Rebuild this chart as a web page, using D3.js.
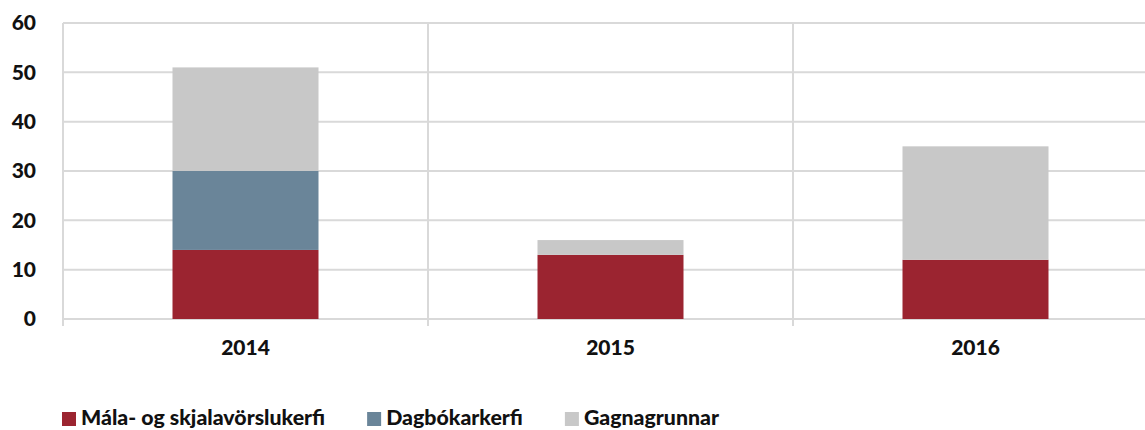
<!DOCTYPE html>
<html>
<head>
<meta charset="utf-8">
<script src="https://cdn.jsdelivr.net/npm/d3@7"></script>
<style>
  body { margin: 0; background: #fff; }
  svg { display: block; font-family: Lato, "Open Sans", sans-serif; font-weight: 900; }
</style>
</head>
<body>
<div id="chart"></div>
<script>
var years = ['2014', '2015', '2016'];
var seriesNames = ['Mála- og skjalavörslukerfi', 'Dagbókarkerfi', 'Gagnagrunnar'];
var seriesColors = ['#9b2430', '#6a8599', '#c8c8c8'];
var malaValues = [14, 13, 12];
var dagbokValues = [16, 0, 0];
var gagnaValues = [21, 3, 23];
var yTicks = [0, 10, 20, 30, 40, 50, 60];

var width = 1145, height = 430;

var rows = years.map(function(y, i) {
    return { year: y, s0: malaValues[i], s1: dagbokValues[i], s2: gagnaValues[i] };
});

var svg = d3.select('#chart')
    .append('svg')
    .attr('width', width)
    .attr('height', height);

var x = d3.scaleBand()
    .domain(years)
    .range([63, 1158])
    .paddingInner(0)
    .paddingOuter(0);

var y = d3.scaleLinear()
    .domain([0, 60])
    .range([319, 23]);

// horizontal grid
svg.append('g')
    .selectAll('line')
    .data(yTicks)
    .enter()
    .append('line')
    .attr('x1', 63)
    .attr('x2', width)
    .attr('y1', function(d) { return y(d); })
    .attr('y2', function(d) { return y(d); })
    .attr('stroke', '#d9d9d9')
    .attr('stroke-width', 2);

// category separators
var seps = years.map(function(d) { return x(d); });
svg.append('g')
    .selectAll('line')
    .data(seps)
    .enter()
    .append('line')
    .attr('x1', function(d) { return d; })
    .attr('x2', function(d) { return d; })
    .attr('y1', y(60))
    .attr('y2', y(0) + 7)
    .attr('stroke', '#d9d9d9')
    .attr('stroke-width', 2);

var stack = d3.stack().keys(['s0', 's1', 's2']);
var layers = stack(rows);

var barW = x.bandwidth() * 0.4;

svg.append('g')
    .selectAll('g')
    .data(layers)
    .enter()
    .append('g')
    .attr('fill', function(d, i) { return seriesColors[i]; })
    .selectAll('rect')
    .data(function(d) { return d; })
    .enter()
    .append('rect')
    .attr('x', function(d) { return x(d.data.year) + (x.bandwidth() - barW) / 2; })
    .attr('y', function(d) { return y(d[1]); })
    .attr('width', barW)
    .attr('height', function(d) { return y(d[0]) - y(d[1]); });

// y axis labels
var yAxis = d3.axisLeft(y)
    .tickValues(yTicks)
    .tickSize(0)
    .tickPadding(0);

var yg = svg.append('g')
    .attr('transform', 'translate(36,0)')
    .call(yAxis);
yg.select('.domain').remove();
yg.selectAll('text')
    .attr('font-family', 'Lato, sans-serif')
    .attr('font-weight', 900)
    .attr('font-size', 21)
    .attr('fill', '#111');

// x axis labels
var xAxis = d3.axisBottom(x).tickSize(0).tickPadding(0);
var xg = svg.append('g')
    .attr('transform', 'translate(0,340)')
    .call(xAxis);
xg.select('.domain').remove();
xg.selectAll('text')
    .attr('font-family', 'Lato, sans-serif')
    .attr('font-weight', 900)
    .attr('font-size', 21)
    .attr('fill', '#111');

// legend
var legend = svg.append('g').attr('transform', 'translate(62,409)');
var lx = 0;
seriesNames.forEach(function(name, i) {
    var item = legend.append('g').attr('transform', 'translate(' + lx + ',0)');
    item.append('rect')
        .attr('width', 14)
        .attr('height', 14)
        .attr('y', 3)
        .attr('fill', seriesColors[i]);
    var t = item.append('text')
        .attr('x', 19)
        .attr('y', 16)
        .attr('font-size', 21.3)
        .attr('fill', '#111')
        .text(name);
    lx += 19 + t.node().getComputedTextLength() + 42;
});
</script>
</body>
</html>
